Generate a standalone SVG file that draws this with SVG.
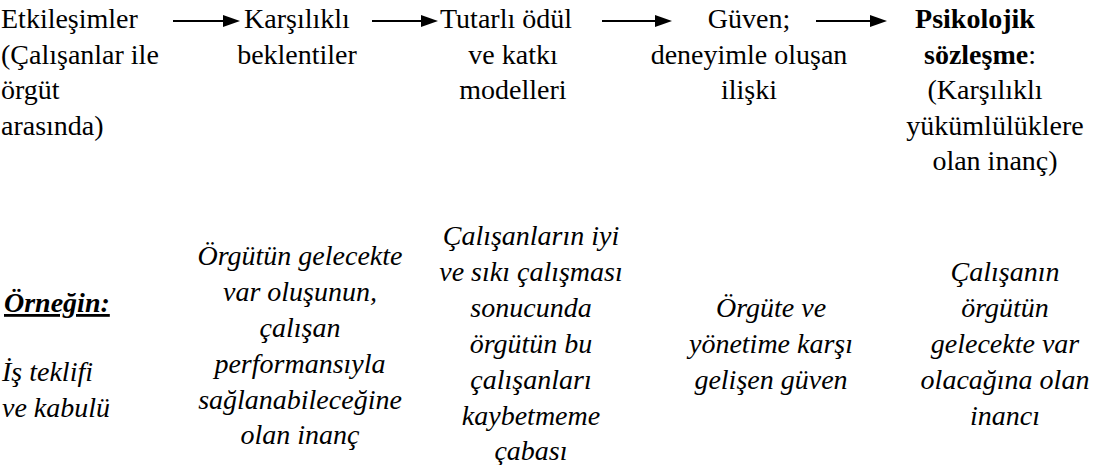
<svg xmlns="http://www.w3.org/2000/svg" width="1111" height="465" viewBox="0 0 1111 465">
<g id="connectors" stroke="#000" stroke-width="2" fill="#000">
<line x1="173" y1="21" x2="225" y2="21"/>
<polygon stroke="none" points="223,15 240,21 223,27"/>
<line x1="372" y1="21" x2="423" y2="21"/>
<polygon stroke="none" points="421,15 438,21 421,27"/>
<line x1="602" y1="21" x2="657" y2="21"/>
<polygon stroke="none" points="655,15 672,21 655,27"/>
<line x1="816" y1="21" x2="872" y2="21"/>
<polygon stroke="none" points="870,15 887,21 870,27"/>
</g>
<g id="n1">
<text font-family="Liberation Serif, Times New Roman, serif" font-size="28" x="1" y="28">Etkileşimler</text>
<text font-family="Liberation Serif, Times New Roman, serif" font-size="28" x="1" y="63.5">(Çalışanlar ile</text>
<text font-family="Liberation Serif, Times New Roman, serif" font-size="28" x="1" y="99">örgüt</text>
<text font-family="Liberation Serif, Times New Roman, serif" font-size="28" x="1" y="134.5">arasında)</text>
</g>
<g id="n2">
<text font-family="Liberation Serif, Times New Roman, serif" font-size="28" text-anchor="middle" x="297" y="28">Karşılıklı</text>
<text font-family="Liberation Serif, Times New Roman, serif" font-size="28" text-anchor="middle" x="297" y="63.5">beklentiler</text>
</g>
<g id="n3">
<text font-family="Liberation Serif, Times New Roman, serif" font-size="28" x="440" y="28">Tutarlı ödül</text>
<text font-family="Liberation Serif, Times New Roman, serif" font-size="28" text-anchor="middle" x="513" y="63.5">ve katkı</text>
<text font-family="Liberation Serif, Times New Roman, serif" font-size="28" text-anchor="middle" x="513" y="99">modelleri</text>
</g>
<g id="n4">
<text font-family="Liberation Serif, Times New Roman, serif" font-size="28" text-anchor="middle" x="749" y="28">Güven;</text>
<text font-family="Liberation Serif, Times New Roman, serif" font-size="28" text-anchor="middle" x="749" y="63.5">deneyimle oluşan</text>
<text font-family="Liberation Serif, Times New Roman, serif" font-size="28" text-anchor="middle" x="749" y="99">ilişki</text>
</g>
<g id="n5">
<text font-family="Liberation Serif, Times New Roman, serif" font-size="28" font-weight="bold" text-anchor="middle" x="975" y="28">Psikolojik</text>
<text font-family="Liberation Serif, Times New Roman, serif" font-size="28" text-anchor="middle" x="980" y="63.5"><tspan font-weight="bold">sözleşme</tspan>:</text>
<text font-family="Liberation Serif, Times New Roman, serif" font-size="28" text-anchor="middle" x="985" y="99">(Karşılıklı</text>
<text font-family="Liberation Serif, Times New Roman, serif" font-size="28" text-anchor="middle" x="995" y="134.5">yükümlülüklere</text>
<text font-family="Liberation Serif, Times New Roman, serif" font-size="28" text-anchor="middle" x="995" y="170">olan inanç)</text>
</g>
<g id="e1">
<text font-family="Liberation Serif, Times New Roman, serif" font-size="28" font-style="italic" font-weight="bold" text-decoration="underline" x="4" y="312">Örneğin:</text>
<text font-family="Liberation Serif, Times New Roman, serif" font-size="28" font-style="italic" x="2" y="381">İş teklifi</text>
<text font-family="Liberation Serif, Times New Roman, serif" font-size="28" font-style="italic" x="2" y="416.5">ve kabulü</text>
</g>
<g id="e2">
<text font-family="Liberation Serif, Times New Roman, serif" font-size="28" font-style="italic" text-anchor="middle" x="300" y="265">Örgütün gelecekte</text>
<text font-family="Liberation Serif, Times New Roman, serif" font-size="28" font-style="italic" text-anchor="middle" x="300" y="301">var oluşunun,</text>
<text font-family="Liberation Serif, Times New Roman, serif" font-size="28" font-style="italic" text-anchor="middle" x="300" y="337">çalışan</text>
<text font-family="Liberation Serif, Times New Roman, serif" font-size="28" font-style="italic" text-anchor="middle" x="300" y="373">performansıyla</text>
<text font-family="Liberation Serif, Times New Roman, serif" font-size="28" font-style="italic" text-anchor="middle" x="300" y="409">sağlanabileceğine</text>
<text font-family="Liberation Serif, Times New Roman, serif" font-size="28" font-style="italic" text-anchor="middle" x="300" y="444">olan inanç</text>
</g>
<g id="e3">
<text font-family="Liberation Serif, Times New Roman, serif" font-size="28" font-style="italic" text-anchor="middle" x="531" y="245">Çalışanların iyi</text>
<text font-family="Liberation Serif, Times New Roman, serif" font-size="28" font-style="italic" text-anchor="middle" x="531" y="281">ve sıkı çalışması</text>
<text font-family="Liberation Serif, Times New Roman, serif" font-size="28" font-style="italic" text-anchor="middle" x="531" y="317">sonucunda</text>
<text font-family="Liberation Serif, Times New Roman, serif" font-size="28" font-style="italic" text-anchor="middle" x="531" y="353">örgütün bu</text>
<text font-family="Liberation Serif, Times New Roman, serif" font-size="28" font-style="italic" text-anchor="middle" x="531" y="389">çalışanları</text>
<text font-family="Liberation Serif, Times New Roman, serif" font-size="28" font-style="italic" text-anchor="middle" x="531" y="425">kaybetmeme</text>
<text font-family="Liberation Serif, Times New Roman, serif" font-size="28" font-style="italic" text-anchor="middle" x="531" y="460">çabası</text>
</g>
<g id="e4">
<text font-family="Liberation Serif, Times New Roman, serif" font-size="28" font-style="italic" text-anchor="middle" x="771" y="317">Örgüte ve</text>
<text font-family="Liberation Serif, Times New Roman, serif" font-size="28" font-style="italic" text-anchor="middle" x="771" y="353">yönetime karşı</text>
<text font-family="Liberation Serif, Times New Roman, serif" font-size="28" font-style="italic" text-anchor="middle" x="771" y="389">gelişen güven</text>
</g>
<g id="e5">
<text font-family="Liberation Serif, Times New Roman, serif" font-size="28" font-style="italic" text-anchor="middle" x="1005" y="281">Çalışanın</text>
<text font-family="Liberation Serif, Times New Roman, serif" font-size="28" font-style="italic" text-anchor="middle" x="1005" y="317">örgütün</text>
<text font-family="Liberation Serif, Times New Roman, serif" font-size="28" font-style="italic" text-anchor="middle" x="1005" y="353">gelecekte var</text>
<text font-family="Liberation Serif, Times New Roman, serif" font-size="28" font-style="italic" text-anchor="middle" x="1005" y="389">olacağına olan</text>
<text font-family="Liberation Serif, Times New Roman, serif" font-size="28" font-style="italic" text-anchor="middle" x="1005" y="425">inancı</text>
</g>
</svg>
